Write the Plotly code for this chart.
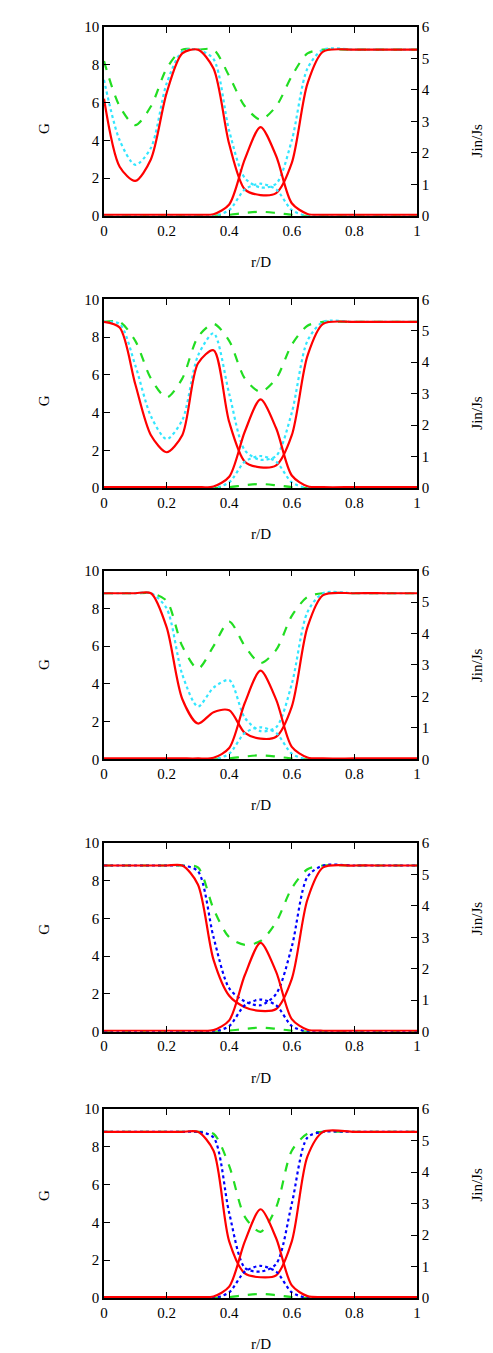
import plotly.graph_objects as go

# shared radial grid r/D
x = [0, 0.05, 0.1, 0.15, 0.2, 0.25, 0.3, 0.35, 0.4, 0.45, 0.5, 0.55, 0.6, 0.65, 0.7, 0.8, 0.9, 1.0]

# G curves (left axis) for each panel: red solid, dotted, green dashed
g_red = [
    [6.2, 2.6, 1.85, 3.0, 6.5, 8.6, 8.8, 7.8, 3.8, 1.4, 1.1, 1.2, 2.8, 7.0, 8.7, 8.8, 8.8, 8.8],
    [8.8, 8.5, 5.5, 2.8, 1.9, 2.8, 6.6, 7.3, 3.5, 1.4, 1.1, 1.2, 2.8, 7.0, 8.7, 8.8, 8.8, 8.8],
    [8.8, 8.8, 8.8, 8.8, 7.0, 3.2, 1.9, 2.5, 2.6, 1.4, 1.1, 1.2, 2.8, 7.0, 8.7, 8.8, 8.8, 8.8],
    [8.8, 8.8, 8.8, 8.8, 8.8, 8.8, 7.8, 3.8, 1.9, 1.3, 1.1, 1.2, 2.8, 7.0, 8.7, 8.8, 8.8, 8.8],
    [8.8, 8.8, 8.8, 8.8, 8.8, 8.8, 8.8, 7.8, 3.0, 1.3, 1.1, 1.2, 3.0, 7.5, 8.8, 8.8, 8.8, 8.8],
]
g_dot = [
    [7.2, 4.0, 2.7, 3.6, 7.0, 8.7, 8.8, 8.3, 4.5, 2.0, 1.5, 1.7, 4.0, 7.8, 8.8, 8.8, 8.8, 8.8],
    [8.8, 8.7, 6.5, 3.8, 2.6, 3.6, 7.0, 8.2, 5.0, 2.0, 1.5, 1.7, 4.0, 7.8, 8.8, 8.8, 8.8, 8.8],
    [8.8, 8.8, 8.8, 8.8, 8.0, 4.5, 2.8, 3.8, 4.2, 2.2, 1.5, 1.7, 4.0, 7.8, 8.8, 8.8, 8.8, 8.8],
    [8.8, 8.8, 8.8, 8.8, 8.8, 8.8, 8.5, 5.0, 2.3, 1.6, 1.4, 2.0, 4.5, 8.2, 8.8, 8.8, 8.8, 8.8],
    [8.8, 8.8, 8.8, 8.8, 8.8, 8.8, 8.8, 8.5, 4.5, 1.6, 1.4, 1.8, 5.0, 8.5, 8.8, 8.8, 8.8, 8.8],
]
g_green = [
    [8.2, 5.8, 4.8, 5.8, 7.8, 8.8, 8.8, 8.8, 7.4, 5.8, 5.1, 5.8, 7.4, 8.6, 8.8, 8.8, 8.8, 8.8],
    [8.8, 8.8, 7.8, 5.8, 4.8, 5.8, 8.0, 8.7, 7.8, 5.8, 5.1, 5.8, 7.6, 8.6, 8.8, 8.8, 8.8, 8.8],
    [8.8, 8.8, 8.8, 8.8, 8.4, 6.0, 4.8, 6.0, 7.3, 6.0, 5.1, 5.8, 7.6, 8.6, 8.8, 8.8, 8.8, 8.8],
    [8.8, 8.8, 8.8, 8.8, 8.8, 8.8, 8.7, 6.5, 5.0, 4.6, 4.8, 5.8, 7.6, 8.6, 8.8, 8.8, 8.8, 8.8],
    [8.8, 8.8, 8.8, 8.8, 8.8, 8.8, 8.8, 8.7, 7.0, 4.3, 3.5, 4.8, 7.8, 8.7, 8.8, 8.8, 8.8, 8.8],
]

# Jin/Js curves (right axis), same in every panel
j_red = [0.03, 0.03, 0.03, 0.03, 0.03, 0.03, 0.03, 0.05, 0.36, 1.8, 2.82, 1.9, 0.4, 0.06, 0.03, 0.03, 0.03, 0.03]
j_dot = [0.0, 0.0, 0.0, 0.0, 0.0, 0.0, 0.0, 0.0, 0.18, 0.84, 1.02, 0.84, 0.18, 0.0, 0.0, 0.0, 0.0, 0.0]
j_green = [0.0, 0.0, 0.0, 0.0, 0.0, 0.0, 0.0, 0.0, 0.03, 0.09, 0.13, 0.09, 0.03, 0.0, 0.0, 0.0, 0.0, 0.0]

dot_colors = ["#33e6ff", "#33e6ff", "#33e6ff", "#0000ff", "#0000ff"]

W, H = 493, 1343
top, bottom = 11, 53
tops = [11, 285, 558, 832, 1100]
ph = 190

fig = go.Figure()
font = dict(family="Liberation Serif, Times New Roman, serif", size=15, color="black")
layout = dict(width=W, height=H, margin=dict(l=96, r=84, t=top, b=bottom),
              plot_bgcolor="white", paper_bgcolor="white", showlegend=False, font=font)
annotations = []

for i in range(5):
    n = i + 1
    y0 = 1 - (tops[i] + ph - top) / (H - top - bottom)
    y1 = 1 - (tops[i] - top) / (H - top - bottom)
    xa = "x" if n == 1 else f"x{n}"
    ya = f"y{2*i+1}" if i else "y"
    yb = f"y{2*i+2}"
    line_sets = [
        (g_green[i], ya, dict(color="#22dd22", width=2.2, dash="dash")),
        (g_dot[i], ya, dict(color=dot_colors[i], width=2.2, dash="dot")),
        (g_red[i], ya, dict(color="#ff0000", width=2.2)),
        (j_green, yb, dict(color="#22dd22", width=2.2, dash="dash")),
        (j_dot, yb, dict(color=dot_colors[i], width=2.2, dash="dot")),
        (j_red, yb, dict(color="#ff0000", width=2.2)),
    ]
    for ys, yax, ln in line_sets:
        fig.add_trace(go.Scatter(x=x, y=ys, mode="lines", line=dict(shape="spline", smoothing=0.8, **ln),
                                 xaxis=xa, yaxis=yax))
    ax = dict(linecolor="black", linewidth=1.5, ticks="inside", ticklen=6, tickcolor="black",
              showgrid=False, zeroline=False, tickfont=font)
    layout["xaxis" + ("" if n == 1 else str(n))] = dict(
        ax, domain=[0, 1], range=[0, 1], tickvals=[0, 0.2, 0.4, 0.6, 0.8, 1],
        ticktext=["0", "0.2", "0.4", "0.6", "0.8", "1"], mirror="ticks", anchor=ya)
    layout["yaxis" + ("" if n == 1 else str(2*i+1))] = dict(
        ax, domain=[y0, y1], range=[0, 10], dtick=2, anchor=xa)
    layout[f"yaxis{2*i+2}"] = dict(
        ax, range=[0, 6], dtick=1, overlaying=ya, side="right", anchor=xa)
    annotations += [
        dict(text="r/D", xref="paper", yref="paper", x=0.5, y=y0, yshift=-36, showarrow=False,
             font=font, yanchor="top"),
        dict(text="G", xref="paper", yref="paper", x=0, xshift=-70, y=(y0+y1)/2, showarrow=False,
             font=font, textangle=-90),
        dict(text="Jin/Js", xref="paper", yref="paper", x=1, xshift=70, y=(y0+y1)/2, showarrow=False,
             font=font, textangle=-90),
    ]

layout["annotations"] = annotations
fig.update_layout(**layout)
fig.write_html("out.html")
